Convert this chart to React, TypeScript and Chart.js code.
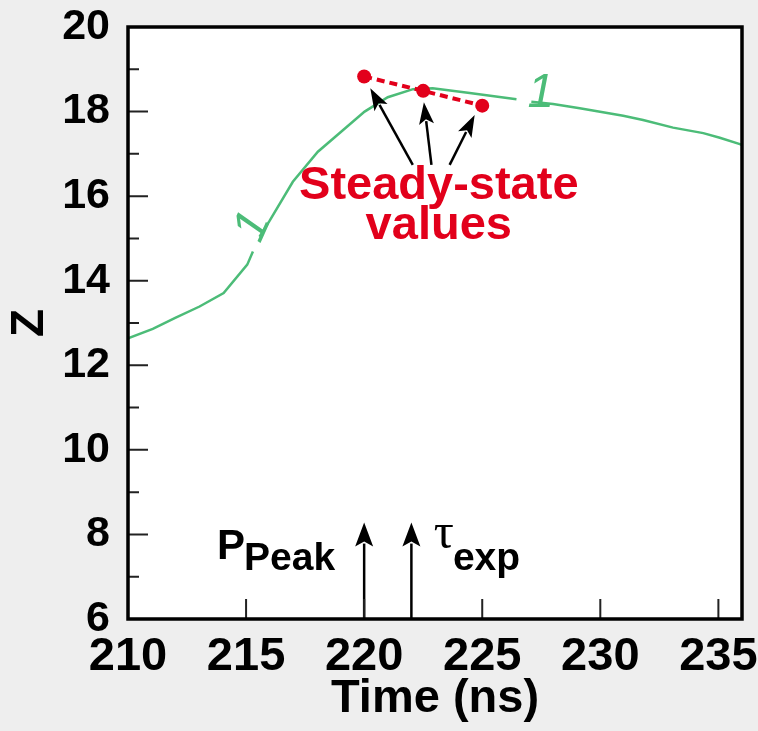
import React, { useEffect, useRef } from "react";
import { Chart, registerables } from "chart.js";

Chart.register(...registerables);

// ---- Data ----
// Green curve (time in ns, Z). null entries = breaks in the drawn line (where the "1" labels sit)
const timeNs = [210.0, 211.05, 212.0, 213.03, 214.05, 215.05, 215.29, 215.43, 215.57, 216.0, 216.98, 218.04, 219.0, 220.02, 221.0, 222.07, 222.9, 224.47, 226.45, 226.8, 227.08, 228.0, 229.13, 230.97, 231.81, 233.08, 234.36, 235.06, 235.91, 236.0];
const zValues = [12.64, 12.86, 13.12, 13.39, 13.71, 14.38, 14.69, null, 15.04, 15.42, 16.34, 17.05, 17.51, 18.0, 18.34, 18.53, 18.55, 18.44, 18.29, null, 18.23, 18.18, 18.08, 17.9, 17.8, 17.62, 17.49, 17.38, 17.23, 17.21];

// Steady-state values (red dotted)
const steadyTime = [220.0, 222.5, 225.0];
const steadyZ = [18.83, 18.49, 18.14];

// Axis ticks
const xTickValues = [210, 215, 220, 225, 230, 235];
const yTickValues = [6, 8, 10, 12, 14, 16, 18, 20];
const yMinorTicks = [7, 9, 11, 13, 15, 17, 19];
const xInnerTicks = [215, 220, 225, 230, 235];

// Annotation anchors (data coordinates)
const eventTimes = [220, 222]; // P_Peak, tau_exp arrows
const eventArrowTip = 8.28;
const steadyArrowTails = [[222.06, 16.74], [222.85, 16.74], [223.62, 16.74]];
const steadyArrowTips = [[220.26, 18.55], [222.53, 18.22], [224.68, 17.92]];
const steadyLabelLines = ["Steady-state", "values"];
const steadyLabelPos = [223.16, 15.93, 14.99]; // x, baseline line1, baseline line2
const curveLabels = [
  { text: "1", x: 215.23, y: 15.3, rot: -66 },
  { text: "1", x: 227.48, y: 18.46, rot: 0 },
];

const GREEN = "#4cbc78";
const RED = "#e2001b";
const SANS = "'Liberation Sans', Arial, Helvetica, sans-serif";

function drawArrow(ctx: CanvasRenderingContext2D, x1: number, y1: number, x2: number, y2: number, headLen: number, headW: number, lw: number) {
  const ang = Math.atan2(y2 - y1, x2 - x1);
  const c = Math.cos(ang), s = Math.sin(ang);
  const bx = x2 - headLen * c, by = y2 - headLen * s;
  ctx.beginPath();
  ctx.moveTo(x1, y1);
  ctx.lineTo(bx + 3 * c, by + 3 * s);
  ctx.lineWidth = lw;
  ctx.stroke();
  ctx.beginPath();
  ctx.moveTo(x2, y2);
  ctx.lineTo(bx + (headW / 2) * s, by - (headW / 2) * c);
  ctx.lineTo(bx + 5 * c, by + 5 * s);
  ctx.lineTo(bx - (headW / 2) * s, by + (headW / 2) * c);
  ctx.closePath();
  ctx.fill();
}

const plotPlugin = {
  id: "plotDecor",
  beforeDraw(chart: any) {
    const { ctx, chartArea: a } = chart;
    ctx.save();
    ctx.fillStyle = "#ffffff";
    ctx.fillRect(a.left, a.top, a.right - a.left, a.bottom - a.top);
    ctx.restore();
  },
  afterDatasetsDraw(chart: any) {
    const { ctx, scales } = chart;
    const X = (v: number) => scales.x.getPixelForValue(v);
    const Y = (v: number) => scales.y.getPixelForValue(v);
    ctx.save();

    // green "1" curve labels
    ctx.fillStyle = GREEN;
    ctx.font = `italic 48px ${SANS}`;
    ctx.textAlign = "center";
    ctx.textBaseline = "middle";
    curveLabels.forEach((l) => {
      ctx.save();
      ctx.translate(X(l.x), Y(l.y));
      ctx.rotate((l.rot * Math.PI) / 180);
      ctx.fillText(l.text, 0, 2);
      ctx.restore();
    });

    // steady-state arrows
    ctx.strokeStyle = "#000";
    ctx.fillStyle = "#000";
    ctx.lineCap = "butt";
    steadyArrowTails.forEach((t, i) => {
      const tip = steadyArrowTips[i];
      drawArrow(ctx, X(t[0]), Y(t[1]), X(tip[0]), Y(tip[1]), 22, 15, 2.5);
    });

    // steady-state label
    ctx.fillStyle = RED;
    ctx.font = `bold 47px ${SANS}`;
    ctx.textAlign = "center";
    ctx.textBaseline = "alphabetic";
    ctx.fillText(steadyLabelLines[0], X(steadyLabelPos[0]), Y(steadyLabelPos[1]));
    ctx.fillText(steadyLabelLines[1], X(steadyLabelPos[0]), Y(steadyLabelPos[2]));

    // event arrows from the bottom axis
    ctx.fillStyle = "#000";
    ctx.strokeStyle = "#000";
    eventTimes.forEach((t) => {
      drawArrow(ctx, X(t), Y(6), X(t), Y(eventArrowTip), 24, 18, 2.5);
    });

    // P_Peak label
    ctx.textAlign = "left";
    ctx.font = `bold 42px ${SANS}`;
    const px = X(213.77);
    ctx.fillText("P", px, Y(7.41));
    const pw = ctx.measureText("P").width;
    ctx.font = `bold 39px ${SANS}`;
    ctx.fillText("Peak", px + pw - 1, Y(7.17));

    // tau_exp label
    ctx.font = `50px 'Liberation Serif', 'DejaVu Serif', serif`;
    const tx = X(222.95);
    ctx.fillText("τ", tx, Y(7.69));
    const tw = ctx.measureText("τ").width;
    ctx.font = `bold 39px ${SANS}`;
    ctx.fillText("exp", tx + tw - 1, Y(7.17));

    ctx.restore();
  },
  afterDraw(chart: any) {
    const { ctx, chartArea: a, scales } = chart;
    const X = (v: number) => scales.x.getPixelForValue(v);
    const Y = (v: number) => scales.y.getPixelForValue(v);
    ctx.save();
    ctx.strokeStyle = "#222";
    ctx.lineWidth = 2;
    ctx.beginPath();
    yTickValues.forEach((v) => {
      ctx.moveTo(a.left, Y(v));
      ctx.lineTo(a.left + 20, Y(v));
    });
    yMinorTicks.forEach((v) => {
      ctx.moveTo(a.left, Y(v));
      ctx.lineTo(a.left + 11, Y(v));
    });
    xInnerTicks.forEach((v) => {
      ctx.moveTo(X(v), a.bottom);
      ctx.lineTo(X(v), a.bottom - 20);
    });
    ctx.stroke();
    ctx.strokeStyle = "#000";
    ctx.lineWidth = 3.5;
    ctx.strokeRect(a.left, a.top, a.right - a.left, a.bottom - a.top);
    ctx.restore();
  },
};

export default function App() {
  const ref = useRef<HTMLCanvasElement | null>(null);
  useEffect(() => {
    const canvas = ref.current;
    if (!canvas) return;
    const curve = timeNs.map((t, i) => ({ x: t, y: zValues[i] }));
    const steady = steadyTime.map((t, i) => ({ x: t, y: steadyZ[i] }));
    const chart = new Chart(canvas, {
      type: "line",
      data: {
        datasets: [
          {
            data: steady,
            borderColor: RED,
            backgroundColor: RED,
            borderWidth: 4,
            borderDash: [8, 5],
            pointRadius: 7,
            pointBackgroundColor: RED,
            pointBorderWidth: 0,
            tension: 0,
            order: 0,
          },
          {
            data: curve as any,
            borderColor: GREEN,
            borderWidth: 2.5,
            pointRadius: 0,
            tension: 0,
            spanGaps: false,
            order: 1,
          },
        ],
      },
      options: {
        responsive: false,
        animation: false,
        events: [],
        layout: { padding: { top: 27, right: 16, left: 0, bottom: 0 } },
        plugins: { legend: { display: false }, tooltip: { enabled: false }, title: { display: false } },
        scales: {
          x: {
            type: "linear",
            min: 210,
            max: 236,
            afterFit: (s: any) => {
              s.height = 112;
              s.paddingLeft = 0;
              s.paddingRight = 0;
              s.paddingTop = 0;
              s.paddingBottom = 0;
            },
            afterBuildTicks: (s: any) => {
              s.ticks = xTickValues.map((v) => ({ value: v }));
            },
            grid: { display: false, drawTicks: false },
            border: { display: false },
            ticks: {
              color: "#000",
              padding: 10,
              maxRotation: 0,
              autoSkip: false,
              font: { family: SANS, weight: "bold", size: 47 },
            },
            title: {
              display: true,
              text: "Time (ns)",
              color: "#000",
              font: { family: SANS, weight: "bold", size: 47, lineHeight: 1 },
              padding: { top: 0, bottom: 8 },
            },
          },
          y: {
            type: "linear",
            min: 6,
            max: 20,
            afterFit: (s: any) => {
              s.width = 128;
              s.paddingTop = 0;
              s.paddingBottom = 0;
              s.paddingLeft = 0;
              s.paddingRight = 0;
            },
            afterBuildTicks: (s: any) => {
              s.ticks = yTickValues.map((v) => ({ value: v }));
            },
            grid: { display: false, drawTicks: false },
            border: { display: false },
            ticks: {
              color: "#000",
              padding: 18,
              autoSkip: false,
              font: { family: SANS, weight: "bold", size: 43 },
            },
            title: {
              display: true,
              text: "Z",
              color: "#000",
              font: { family: SANS, weight: "bold", size: 46, lineHeight: 1 },
              padding: { top: 7, bottom: 0 },
            },
          },
        },
      },
      plugins: [plotPlugin],
    } as any);
    return () => chart.destroy();
  }, []);
  return (
    <div style={{ position: "fixed", left: 0, top: 0, width: 758, height: 731, background: "#eeeeee" }}>
      <canvas ref={ref} width={758} height={731} style={{ display: "block" }} />
    </div>
  );
}
